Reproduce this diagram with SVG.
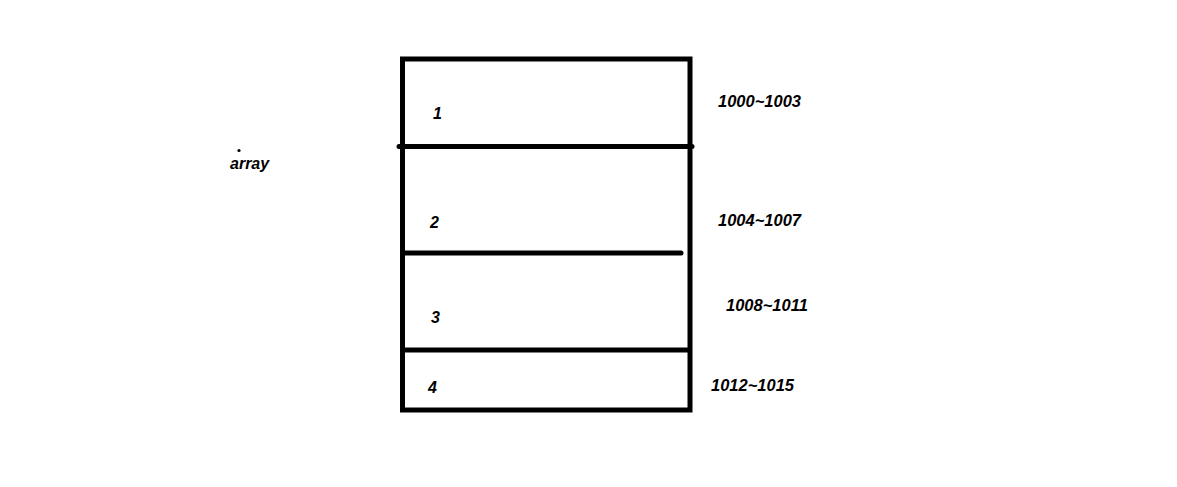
<svg xmlns="http://www.w3.org/2000/svg" width="1177" height="487" viewBox="0 0 1177 487">
<style>
.t{font-family:"Liberation Sans",Arial,sans-serif;font-size:16px;font-weight:bold;font-style:italic;fill:#000}
.r{font-size:16.5px}
.ln{stroke:#000;stroke-width:5;fill:none}
</style>
<rect width="1177" height="487" fill="#fff"/>
<g id="array-label">
<circle cx="239" cy="150.5" r="1.6" fill="#000"/>
<text class="t" x="230" y="169">array</text>
</g>
<g id="array-box">
<rect class="ln" x="402.5" y="59" width="287.5" height="351"/>
</g>
<g id="connectors">
<line class="ln" x1="399" y1="146.5" x2="692" y2="146.5" stroke-linecap="round"/>
<line class="ln" x1="405" y1="253" x2="681" y2="253" stroke-linecap="round"/>
<line class="ln" x1="405" y1="350" x2="688" y2="350"/>
</g>
<g id="cell-1"><text class="t" x="433" y="119">1</text><text class="t r" x="718" y="106.5">1000~1003</text></g>
<g id="cell-2"><text class="t" x="430" y="228">2</text><text class="t r" x="718" y="226">1004~1007</text></g>
<g id="cell-3"><text class="t" x="431" y="323">3</text><text class="t r" x="726" y="311">1008~1011</text></g>
<g id="cell-4"><text class="t" x="428" y="393">4</text><text class="t r" x="711" y="391">1012~1015</text></g>
</svg>
